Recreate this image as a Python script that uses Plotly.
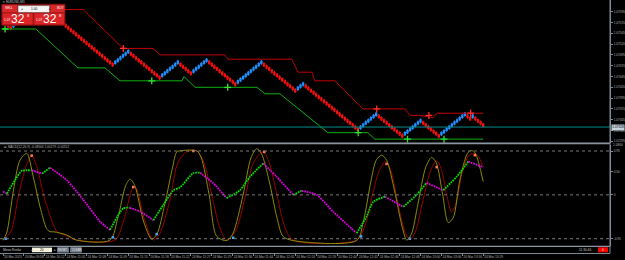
import plotly.graph_objects as go

W, H = 625, 260

# ---------------- data ----------------
BRICK_SIZE = 0.00005
START_PRICE = 1.07575
BRICK_RUNS = [-4, 8, -3, 3, -25, 6, -12, 7, -5, 6, -11, 10, -13, 3, -21, 7, -10, 7, -7, 10, -2, 1, -4]
BRICK_WICK = 0.6          # wick length in bricks
BID_PRICE = 1.07328
BID_TEXT = "1.07328"

PRICE_TICKS = [1.07595, 1.07570, 1.07545, 1.07520, 1.07495, 1.07470, 1.07445,
               1.07420, 1.07395, 1.07370, 1.07345, 1.07320, 1.07295]
PRICE_LABELS = ["1.07595", "1.07570", "1.07545", "1.07520", "1.07495", "1.07470", "1.07445",
                "1.07420", "1.07395", "1.07370", "1.07345", "1.07320", "1.07295"]

RESIST_X = [6.5, 30.7, 46.0, 57.5, 60.2, 85.0, 86.2, 110.7, 113.0, 118.4, 119.5, 127.2,
            137.9, 154.0, 156.0, 159.8, 164.8, 166.3, 184.0]
RESIST_Y = [1.07600, 1.07600, 1.07510, 1.07510, 1.07495, 1.07495, 1.07485, 1.07485, 1.07455,
            1.07455, 1.07435, 1.07435, 1.07370, 1.07370, 1.07355, 1.07355, 1.07350, 1.07360, 1.07360]
SUPPORT_X = [0.0, 12.6, 28.7, 39.1, 44.8, 68.6, 69.3, 73.6, 97.3, 100.4, 106.1, 124.5, 139.8, 142.5, 184.0]
SUPPORT_Y = [1.07555, 1.07555, 1.07465, 1.07465, 1.07435, 1.07435, 1.07445, 1.07420, 1.07420,
             1.07405, 1.07405, 1.07315, 1.07315, 1.07300, 1.07300]
BUY_SIG_X = [0.8, 57.0, 86.1, 136.1, 155.0, 169.0]
BUY_SIG_Y = [1.07555, 1.07435, 1.07420, 1.07315, 1.07300, 1.07300]
SELL_SIG_X = [46.1, 143.2, 163.2, 179.2]
SELL_SIG_Y = [1.07510, 1.07370, 1.07355, 1.07360]

TIME_TICKS = [0, 8, 16, 24, 32, 40, 48, 56, 64, 72, 80, 88, 96, 104, 112, 120, 128, 136, 144, 152, 160, 168, 176, 184]
TIME_LABELS = ["24 Mar 2023", "24 Mar 09:58", "24 Mar 10:12", "24 Mar 11:05", "24 Mar 11:08",
               "24 Mar 11:09", "24 Mar 11:15", "24 Mar 11:18", "24 Mar 11:22", "24 Mar 11:27",
               "24 Mar 11:29", "24 Mar 11:36", "24 Mar 11:44", "24 Mar 12:05", "24 Mar 12:24",
               "24 Mar 12:29", "24 Mar 12:44", "24 Mar 12:45", "24 Mar 12:46", "24 Mar 12:48",
               "24 Mar 13:00", "24 Mar 13:06", "24 Mar 13:16", "24 Mar 13:29"]

# oscillator (fast = olive, slow = dark red)
FAST_X = [0, 1.4, 4.0, 6.5, 9.1, 11.6, 14.2, 16.7, 18.0, 19.5, 24.4, 28.2, 41.0, 44.0, 47.0, 48.7,
          50.5, 54.0, 57.0, 59.0, 62.0, 65.0, 66.6, 68.6, 74.3, 76.0, 79.0, 81.9, 85.7, 88.0, 92.0,
          95.0, 97.2, 99.0, 102.0, 105.0, 107.3, 111.1, 135.5, 138.0, 141.0, 143.0, 145.1, 147.0,
          150.0, 153.0, 154.7, 156.5, 159.0, 162.0, 164.2, 166.0, 168.5, 170.6, 172.5, 175.0,
          178.0, 179.6, 181.0, 184.0]
FAST_Y = [-0.98, -0.83, 0.10, 0.75, 0.90, 0.39, -0.26, -0.73, -0.80, -0.80, -0.87, -0.98, -0.98,
          -0.50, 0.20, 0.34, 0.20, -0.60, -0.96, -0.85, -0.20, 0.60, 0.93, 0.96, 0.95, 0.80, 0.00,
          -0.90, -0.99, -0.85, 0.00, 0.80, 1.00, 0.90, 0.30, -0.50, -0.90, -0.99, -0.99, -0.60,
          0.30, 0.75, 0.86, 0.75, 0.10, -0.70, -0.98, -0.85, -0.20, 0.60, 0.81, 0.70, 0.00, -0.60,
          -0.50, 0.30, 0.90, 0.96, 0.90, 0.29]
SLOW_X = [0, 3.0, 6.0, 9.0, 11.0, 13.0, 16.0, 19.0, 20.7, 24.0, 28.2, 42.9, 46.0, 49.9, 51.0,
          54.0, 57.6, 60.0, 64.0, 67.0, 70.4, 74.3, 77.0, 80.0, 83.0, 85.7, 89.0, 93.0, 96.0,
          99.7, 102.0, 105.0, 108.0, 111.1, 135.5, 138.5, 142.0, 144.0, 146.4, 148.5, 151.0,
          154.0, 155.9, 158.0, 161.0, 164.0, 166.2, 168.0, 170.0, 171.9, 173.5, 176.0, 178.5,
          180.8, 182.5, 184.0]
SLOW_Y = [-0.99, -0.80, 0.00, 0.65, 0.86, 0.60, -0.10, -0.60, -0.80, -0.88, -0.98, -0.98, -0.60,
          0.16, 0.15, -0.50, -0.98, -0.85, -0.10, 0.70, 0.93, 0.95, 0.70, 0.00, -0.70, -0.98,
          -0.80, 0.00, 0.70, 0.93, 0.70, 0.00, -0.70, -0.98, -0.98, -0.70, 0.10, 0.50, 0.72,
          0.55, -0.10, -0.80, -0.97, -0.80, -0.10, 0.55, 0.74, 0.55, 0.00, -0.37, -0.20, 0.50,
          0.85, 0.90, 0.80, 0.61]

# signal line (dotted): rising = green, falling = magenta
SIGNAL_X = [0, 1.5, 4.6, 7.2, 11.0, 15.0, 18.0, 24.4, 30.8, 37.2, 41.0, 46.1, 48.5, 52.5, 57.6,
            61.4, 65.3, 67.8, 72.9, 75.5, 80.6, 85.7, 90.8, 94.6, 99.7, 104.9, 111.2, 114.4,
            120.2, 126.6, 135.5, 139.3, 141.9, 146.4, 153.4, 158.5, 162.3, 168.7, 173.8, 178.3, 184.0]
SIGNAL_Y = [0.07, 0.03, 0.32, 0.52, 0.53, 0.46, 0.59, 0.32, -0.11, -0.58, -0.76, -0.29, -0.28,
            -0.36, -0.55, -0.22, 0.10, 0.16, 0.47, 0.48, 0.25, -0.07, 0.10, 0.39, 0.68, 0.39, 0.00,
            0.09, 0.00, -0.37, -0.83, -0.47, -0.15, -0.04, -0.26, 0.00, 0.26, 0.10, 0.39, 0.72, 0.60]
SIGNAL_RISING = [0, 1, 1, 1, 0, 1, 0, 0, 0, 0, 1, 1, 0, 0, 1, 1, 1, 1, 1, 0, 0, 1, 1, 1, 0, 0, 1,
                 0, 0, 0, 1, 1, 1, 0, 1, 1, 0, 1, 1, 0, 0]

TOP_MARK_X = [11.0, 49.9, 72.9, 100.1, 147.0, 166.2, 180.8]
TOP_MARK_Y = [0.85, 0.17, 0.95, 0.93, 0.67, 0.60, 0.86]
BOT_MARK_X = [1.1, 42.1, 58.9, 88.2, 137.2, 155.9]
BOT_MARK_Y = [-0.95, -0.92, -0.85, -0.93, -0.90, -0.95]

# ---------------- build renko bricks ----------------
opens, closes = [], []
prev_o = prev_c = None
prev_d = None
for run in BRICK_RUNS:
    d = 1 if run > 0 else -1
    for _ in range(abs(run)):
        if prev_d is None:
            o = 0
        elif d == prev_d:
            o = prev_c
        else:
            o = prev_o
        c = o + d
        opens.append(o)
        closes.append(c)
        prev_o, prev_c, prev_d = o, c, d
idx = list(range(len(opens)))
op = [START_PRICE + v * BRICK_SIZE for v in opens]
cl = [START_PRICE + v * BRICK_SIZE for v in closes]
hi = [max(a, b) + BRICK_WICK * BRICK_SIZE for a, b in zip(op, cl)]
lo = [min(a, b) - BRICK_WICK * BRICK_SIZE for a, b in zip(op, cl)]

# ---------------- helpers (pixel -> paper) ----------------
def px(x):
    return x / W

def py(y):
    return 1 - y / H

FONT = "Liberation Sans"
fig = go.Figure()

fig.add_trace(go.Candlestick(
    x=idx, open=op, high=hi, low=lo, close=cl, whiskerwidth=0,
    increasing=dict(line=dict(color="#1e90ff", width=1.1), fillcolor="#1e90ff"),
    decreasing=dict(line=dict(color="#f01010", width=1.1), fillcolor="#f01010"),
    xaxis="x", yaxis="y", hoverinfo="skip", showlegend=False))

fig.add_trace(go.Scatter(x=RESIST_X, y=RESIST_Y, mode="lines",
                         line=dict(color="#c00000", width=1), xaxis="x", yaxis="y", showlegend=False))
fig.add_trace(go.Scatter(x=SUPPORT_X, y=SUPPORT_Y, mode="lines",
                         line=dict(color="#10b010", width=1), xaxis="x", yaxis="y", showlegend=False))
fig.add_trace(go.Scatter(x=BUY_SIG_X, y=BUY_SIG_Y, mode="markers",
                         marker=dict(symbol="cross-thin", size=5, line=dict(color="#30e030", width=1.3)),
                         xaxis="x", yaxis="y", showlegend=False))
fig.add_trace(go.Scatter(x=SELL_SIG_X, y=SELL_SIG_Y, mode="markers",
                         marker=dict(symbol="cross-thin", size=5, line=dict(color="#ff3030", width=1.3)),
                         xaxis="x", yaxis="y", showlegend=False))

# oscillator
fig.add_trace(go.Scatter(x=SLOW_X, y=SLOW_Y, mode="lines", line=dict(color="#9a0000", width=1, shape="spline", smoothing=0.8),
                         xaxis="x2", yaxis="y2", showlegend=False))
fig.add_trace(go.Scatter(x=FAST_X, y=FAST_Y, mode="lines", line=dict(color="#8c8c00", width=1, shape="spline", smoothing=0.8),
                         xaxis="x2", yaxis="y2", showlegend=False))

# dotted signal line by colour segments
start = 0
n = len(SIGNAL_X)
for k in range(1, n):
    if k == n - 1 or SIGNAL_RISING[k] != SIGNAL_RISING[start]:
        col = "#00e000" if SIGNAL_RISING[start] else "#e000e0"
        fig.add_trace(go.Scatter(x=SIGNAL_X[start:k + 1], y=SIGNAL_Y[start:k + 1], mode="lines",
                                 line=dict(color=col, width=1.8, dash="1.7px,0.9px", shape="spline", smoothing=0.6),
                                 xaxis="x2", yaxis="y2", showlegend=False))
        start = k

fig.add_trace(go.Scatter(x=TOP_MARK_X, y=TOP_MARK_Y, mode="markers",
                         marker=dict(symbol="square", size=2.5, color="#ff7a5a"),
                         xaxis="x2", yaxis="y2", showlegend=False))
fig.add_trace(go.Scatter(x=BOT_MARK_X, y=BOT_MARK_Y, mode="markers",
                         marker=dict(symbol="square", size=2.5, color="#4aa8ff"),
                         xaxis="x2", yaxis="y2", showlegend=False))
# invisible trace for the time axis
fig.add_trace(go.Scatter(x=[TIME_TICKS[0]], y=[0], mode="markers", marker=dict(opacity=0),
                         xaxis="x3", yaxis="y2", showlegend=False, hoverinfo="skip"))

XR = [-1.15, 232.6]
XD = [0, 610 / W]
tickfont = dict(family=FONT, size=3.2, color="#b4b4b4")
fig.update_layout(
    width=W, height=H, margin=dict(l=0, r=0, t=0, b=0),
    paper_bgcolor="black", plot_bgcolor="black", showlegend=False,
    xaxis=dict(domain=XD, range=XR, visible=False, anchor="y", rangeslider=dict(visible=False)),
    yaxis=dict(domain=[py(143), 1], range=[1.0729106, 1.0762208], side="right", anchor="x",
               tickmode="array", tickvals=PRICE_TICKS, ticktext=PRICE_LABELS, tickfont=tickfont,
               ticks="outside", ticklen=2, tickcolor="#7f8a94", showline=True, linecolor="#7f8a94",
               linewidth=1, showgrid=False, zeroline=False, automargin=False),
    xaxis2=dict(domain=XD, range=XR, visible=False, anchor="y2"),
    yaxis2=dict(domain=[py(246), py(145)], range=[-1.108, 1.08], side="right", anchor="x2",
                tickmode="array", tickvals=[0.95, 0.5, 0, -0.95], ticktext=["0.95", "0.50", "0", "-0.95"],
                tickfont=tickfont, ticks="outside", ticklen=2, tickcolor="#7f8a94", showline=True,
                linecolor="#7f8a94", linewidth=1, showgrid=False, zeroline=False, automargin=False),
    xaxis3=dict(domain=XD, range=XR, anchor="free", position=py(253.3), overlaying="x2",
                tickmode="array", tickvals=TIME_TICKS, ticktext=TIME_LABELS, tickfont=tickfont,
                tickangle=0, ticklabelposition="outside right", ticks="outside", ticklen=1.5,
                tickcolor="#7f8a94", showline=True, linecolor="#7f8a94", linewidth=1,
                showgrid=False, zeroline=False, automargin=False),
)

shapes = []
# bid line
shapes.append(dict(type="line", xref="paper", yref="y", x0=0, x1=px(610), y0=BID_PRICE, y1=BID_PRICE,
                   line=dict(color="#008b8b", width=1)))
# dotted levels in indicator
for lv in [0.95, 0, -0.95]:
    shapes.append(dict(type="line", xref="paper", yref="y2", x0=0, x1=px(610), y0=lv, y1=lv,
                       line=dict(color="#7a7a7a", width=1, dash="dot")))
# separators
shapes.append(dict(type="rect", xref="paper", yref="paper", x0=0, x1=px(610), y0=py(144.2), y1=py(142.4),
                   fillcolor="#8c96a0", line=dict(width=0), layer="above"))
shapes.append(dict(type="line", xref="paper", yref="paper", x0=0, x1=px(610), y0=py(246.3), y1=py(246.3),
                   line=dict(color="#8c96a0", width=1.2), layer="above"))
shapes.append(dict(type="line", xref="paper", yref="paper", x0=px(610), x1=px(610), y0=py(0), y1=py(253.3),
                   line=dict(color="#7f8a94", width=1), layer="above"))
# trading widget
shapes += [
    dict(type="rect", xref="paper", yref="paper", x0=px(1.7), x1=px(65), y0=py(25.3), y1=py(4.2),
         fillcolor="#b3191b", line=dict(color="#7a0c0c", width=0.8), layer="above"),
    dict(type="rect", xref="paper", yref="paper", x0=px(2.2), x1=px(17), y0=py(12.3), y1=py(4.8),
         fillcolor="#d7282a", line=dict(width=0), layer="above"),
    dict(type="rect", xref="paper", yref="paper", x0=px(50.5), x1=px(64.5), y0=py(12.3), y1=py(4.8),
         fillcolor="#d7282a", line=dict(width=0), layer="above"),
    dict(type="rect", xref="paper", yref="paper", x0=px(18), x1=px(49.5), y0=py(12.6), y1=py(5.6),
         fillcolor="#f4f4f4", line=dict(color="#606060", width=0.6), layer="above"),
    dict(type="rect", xref="paper", yref="paper", x0=px(2.2), x1=px(33), y0=py(24.8), y1=py(13),
         fillcolor="#dc2326", line=dict(color="#8e1010", width=0.6), layer="above"),
    dict(type="rect", xref="paper", yref="paper", x0=px(34), x1=px(64.5), y0=py(24.8), y1=py(13),
         fillcolor="#dc2326", line=dict(color="#8e1010", width=0.6), layer="above"),
]
# bottom toolbar
shapes += [
    dict(type="rect", xref="paper", yref="paper", x0=px(32), x1=px(52), y0=py(252.2), y1=py(247.6),
         fillcolor="#f3f1dc", line=dict(width=0), layer="above"),
    dict(type="rect", xref="paper", yref="paper", x0=px(57.5), x1=px(68.5), y0=py(252.2), y1=py(247.6),
         fillcolor="#6f7a8c", line=dict(color="#9aa4b4", width=0.5), layer="above"),
    dict(type="rect", xref="paper", yref="paper", x0=px(70.5), x1=px(81.5), y0=py(252.2), y1=py(247.6),
         fillcolor="#6f7a8c", line=dict(color="#9aa4b4", width=0.5), layer="above"),
    dict(type="rect", xref="paper", yref="paper", x0=px(598), x1=px(608), y0=py(252.3), y1=py(247.3),
         fillcolor="#ff0000", line=dict(width=0), layer="above"),
]
fig.update_layout(shapes=shapes)

def ann(x, y, text, size=3.2, color="#c8c8c8", anchor="left", bg=None, yanchor="middle"):
    d = dict(xref="paper", yref="paper", x=px(x), y=py(y), text=text, showarrow=False,
             xanchor=anchor, yanchor=yanchor, font=dict(family=FONT, size=size, color=color),
             borderpad=0)
    if bg:
        d["bgcolor"] = bg
    return d

annotations = [
    ann(2, 1.8, "▾ EURUSD,M1", size=3.2),
    ann(4, 8.5, "SELL", size=3.2, color="#ffffff"),
    ann(56, 8.5, "BUY", size=3.2, color="#ffffff"),
    ann(20, 9.1, "◂", size=3.2, color="#303030"),
    ann(47.5, 9.1, "▸", size=3.2, color="#303030"),
    ann(34, 9.1, "1.00", size=3.2, color="#000000", anchor="center"),
    ann(3.2, 20.5, "1.07", size=3.2, color="#ffffff"),
    ann(10, 19, "32", size=12, color="#ffffff"),
    ann(25.5, 15.5, "8", size=4, color="#ffffff"),
    ann(35.2, 20.5, "1.07", size=3.2, color="#ffffff"),
    ann(42, 19, "32", size=12, color="#ffffff"),
    ann(57.5, 15.5, "8", size=4, color="#ffffff"),
    ann(3, 146.8, "⊞ MACD(12,26,9) -0.08504 1.00179 -0.00512", size=3.2, color="#b4b4b4"),
    ann(2, 249.9, "Mean Renko", size=3.2),
    ann(29.5, 249.9, "◂", size=3, color="#c8c8c8"),
    ann(42, 249.9, "20", size=3.2, color="#000000", anchor="center"),
    ann(53, 249.9, "▸", size=3, color="#c8c8c8"),
    ann(63, 249.9, "RESET", size=2.8, color="#e0e0e0", anchor="center"),
    ann(76, 249.9, "CLEAR", size=2.8, color="#e0e0e0", anchor="center"),
    ann(592, 249.9, "11:30:46", size=3.2, anchor="right"),
    ann(603, 249.9, "0", size=3.2, color="#ffffff", anchor="center"),
    ann(611.5, 145.3, "1.0800", size=3.2, color="#b4b4b4"),
    dict(xref="paper", yref="y", x=px(611), y=BID_PRICE, text=BID_TEXT, showarrow=False,
         xanchor="left", yanchor="middle", font=dict(family=FONT, size=3.2, color="#000000"),
         bgcolor="#c4d0dc", borderpad=0.3),
]
fig.update_layout(annotations=annotations)

fig.write_html("out.html")
